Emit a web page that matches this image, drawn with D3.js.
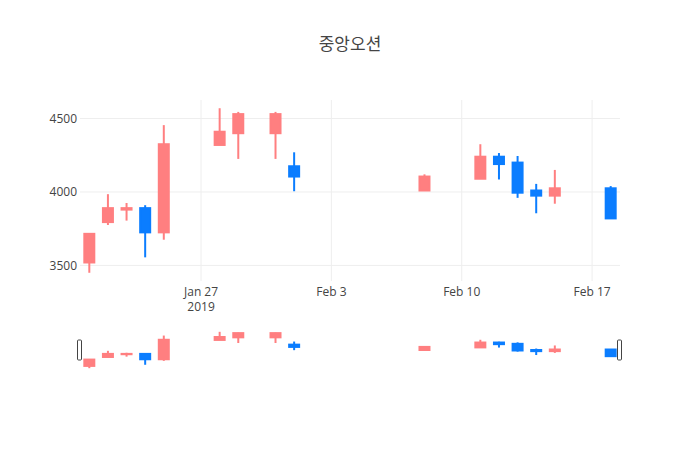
<!DOCTYPE html>
<html>
<head>
<meta charset="utf-8">
<script src="https://cdn.jsdelivr.net/npm/d3@7"></script>
<style>
    body { margin: 0; background: #fff; }
    text { font-family: "Open Sans", "Noto Sans CJK KR", verdana, arial, sans-serif; }
</style>
</head>
<body>
<div id="chart_container"></div>
<script>
// daily prices
var dates = ["2019-01-21", "2019-01-22", "2019-01-23", "2019-01-24", "2019-01-25",
    "2019-01-28", "2019-01-29", "2019-01-31", "2019-02-01", "2019-02-08",
    "2019-02-11", "2019-02-12", "2019-02-13", "2019-02-14", "2019-02-15", "2019-02-18"];
var opens = [3520, 3795, 3880, 3890, 3725, 4320, 4400, 4400, 4175, 4010, 4090, 4240, 4200, 4010, 3975, 4025];
var highs = [3715, 3985, 3925, 3910, 4455, 4570, 4545, 4545, 4270, 4120, 4325, 4265, 4245, 4055, 4150, 4040];
var lows = [3450, 3775, 3805, 3555, 3675, 4320, 4225, 4225, 4005, 4010, 4090, 4085, 3960, 3855, 3920, 3820];
var closes = [3715, 3890, 3890, 3725, 4325, 4410, 4530, 4530, 4105, 4105, 4240, 4190, 3995, 3975, 4025, 3820];

var xTickDates = ["2019-01-27", "2019-02-03", "2019-02-10", "2019-02-17"];
var xTickLabels = ["Jan 27", "Feb 3", "Feb 10", "Feb 17"];
var yearLabel = "2019";
var yTicks = [3500, 4000, 4500];
var title = "중앙오션";

var parseDate = d3.timeParse("%Y-%m-%d");
var candles = dates.map(function (d, i) {
    return { date: parseDate(d), open: opens[i], high: highs[i], low: lows[i], close: closes[i] };
});

var upColor = "#ff7f80";
var downColor = "#0b7dff";

var width = 700, height = 450;
var plot = { left: 80, right: 620, top: 100, bottom: 281 };
var slider = { top: 330, bottom: 370 };

var svg = d3.select("#chart_container")
    .append("svg")
    .attr("width", width)
    .attr("height", height);

// x range padded by half a day each side
var x = d3.scaleTime()
    .domain([d3.timeHour.offset(d3.min(candles, function (d) { return d.date; }), -12),
        d3.timeHour.offset(d3.max(candles, function (d) { return d.date; }), 12)])
    .range([plot.left, plot.right]);

var lo = d3.min(candles, function (d) { return d.low; });
var hi = d3.max(candles, function (d) { return d.high; });
var pad = (hi - lo) * 0.05;
var y = d3.scaleLinear()
    .domain([lo - pad, hi + pad])
    .range([plot.bottom, plot.top]);
var ySlider = y.copy().range([slider.bottom, slider.top]);

// Title
svg.append("text")
    .attr("x", width / 2)
    .attr("y", 50)
    .attr("text-anchor", "middle")
    .style("font-size", "17px")
    .style("fill", "#444")
    .text(title);

// Grid lines
var xTicks = xTickDates.map(parseDate);
svg.append("g").selectAll("line")
    .data(xTicks)
    .enter().append("line")
    .attr("x1", function (d) { return x(d); })
    .attr("x2", function (d) { return x(d); })
    .attr("y1", plot.top)
    .attr("y2", plot.bottom)
    .style("stroke", "#eee");

svg.append("g").selectAll("line")
    .data(yTicks)
    .enter().append("line")
    .attr("x1", plot.left)
    .attr("x2", plot.right)
    .attr("y1", function (d) { return y(d); })
    .attr("y2", function (d) { return y(d); })
    .style("stroke", "#eee");

// Y tick labels
svg.append("g").selectAll("text")
    .data(yTicks)
    .enter().append("text")
    .attr("x", plot.left - 3)
    .attr("y", function (d) { return y(d); })
    .attr("dy", "0.35em")
    .attr("text-anchor", "end")
    .style("font-size", "12px")
    .style("fill", "#444")
    .text(function (d) { return d; });

// X tick labels
svg.append("g").selectAll("text")
    .data(xTicks)
    .enter().append("text")
    .attr("x", function (d) { return x(d); })
    .attr("y", plot.bottom + 14.5)
    .attr("text-anchor", "middle")
    .style("font-size", "12px")
    .style("fill", "#444")
    .text(function (d, i) { return xTickLabels[i]; });

// year under the first tick
svg.append("text")
    .attr("x", x(xTicks[0]))
    .attr("y", plot.bottom + 30)
    .attr("text-anchor", "middle")
    .style("font-size", "12px")
    .style("fill", "#444")
    .text(yearLabel);

function drawCandles(g, ys, boxW) {
    var c = g.selectAll("g")
        .data(candles)
        .enter().append("g")
        .style("stroke", function (d) { return d.close >= d.open ? upColor : downColor; })
        .style("fill", function (d) { return d.close >= d.open ? upColor : downColor; })
        .style("stroke-width", 2);
    c.append("line")
        .attr("x1", function (d) { return x(d.date); })
        .attr("x2", function (d) { return x(d.date); })
        .attr("y1", function (d) { return ys(d.high); })
        .attr("y2", function (d) { return ys(d.low); });
    c.append("rect")
        .attr("x", function (d) { return x(d.date) - boxW / 2; })
        .attr("width", boxW)
        .attr("y", function (d) { return ys(Math.max(d.open, d.close)); })
        .attr("height", function (d) { return Math.abs(ys(d.open) - ys(d.close)); });
}

// Main candlesticks
drawCandles(svg.append("g"), y, 10);

// Range slider
var rs = svg.append("g");
rs.append("rect")
    .attr("x", plot.left)
    .attr("y", slider.top)
    .attr("width", plot.right - plot.left)
    .attr("height", slider.bottom - slider.top)
    .style("fill", "#fff");
drawCandles(rs.append("g"), ySlider, 10);

var sh = slider.bottom - slider.top;
rs.selectAll(".grabber")
    .data(x.range())
    .enter().append("rect")
    .attr("class", "grabber")
    .attr("x", function (d) { return d - 2.5; })
    .attr("y", slider.top + sh / 4)
    .attr("width", 4)
    .attr("height", sh / 2)
    .attr("rx", 1)
    .style("fill", "#fff")
    .style("stroke", "#444")
    .style("stroke-width", 1);
</script>
</body>
</html>
